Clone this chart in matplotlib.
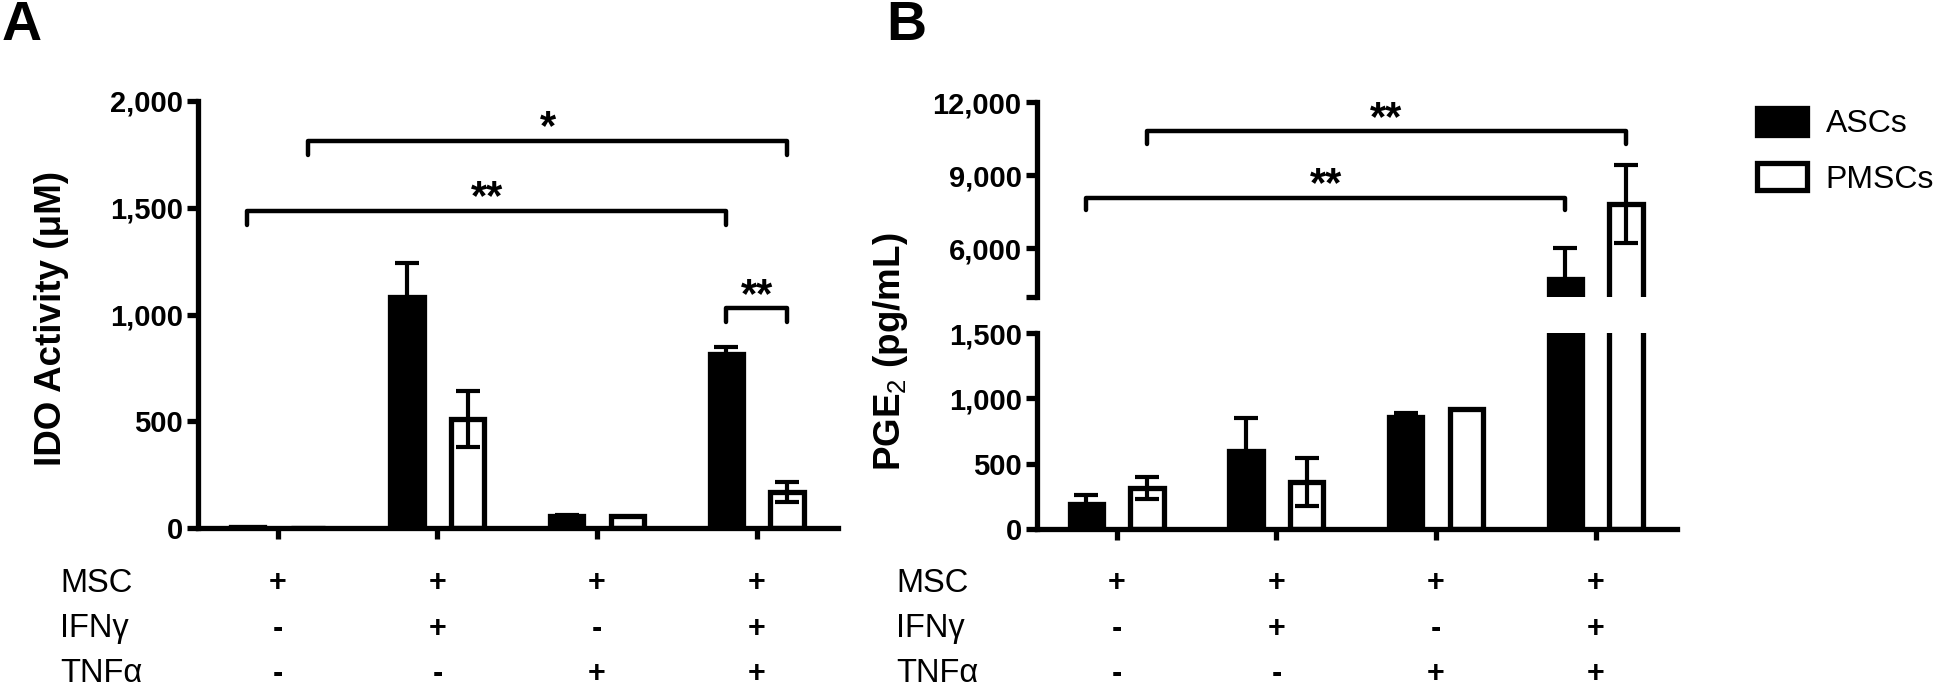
import matplotlib
matplotlib.use("Agg")
import matplotlib.pyplot as plt
import matplotlib.transforms as mtransforms
from matplotlib.patches import Patch
from matplotlib import font_manager
import numpy as np

# --- data ---
groups = np.arange(4)
series = ["ASCs", "PMSCs"]

ido_asc = [5, 1080, 55, 815]
ido_asc_err = [0, 160, 8, 35]
ido_pmsc = [2, 510, 58, 170]
ido_pmsc_err = [0, 130, 0, 47]
ido_ticks = [0, 500, 1000, 1500, 2000]

pge_asc = [190, 600, 855, 4750]
pge_asc_err = [70, 250, 30, 1280]
pge_pmsc = [315, 360, 920, 7800]
pge_pmsc_err = [85, 185, 0, 1600]
pge_low_ticks = [0, 500, 1000, 1500]
pge_high_ticks = [4000, 6000, 9000, 12000]

row_names = ["MSC", "IFN\u03b3", "TNF\u03b1"]
row_signs = [["+", "+", "+", "+"],
             ["-", "+", "-", "+"],
             ["-", "-", "+", "+"]]

# brackets: (x_start, x_end, y, label)
ido_brackets = [(0.19, 3.19, 1814, "*"), (-0.19, 2.81, 1485, "**"), (2.81, 3.19, 1030, "**")]
pge_brackets = [(0.19, 3.19, 10790, "**"), (-0.19, 2.81, 8080, "**")]

W, H = 1946, 688
LW = 3.8
OFF, BW = 0.19, 0.21


def pick(name, fallback="Liberation Sans"):
    try:
        font_manager.findfont(name, fallback_to_default=False)
        return name
    except Exception:
        return fallback


NARROW = pick("Liberation Sans Narrow")
plt.rcParams["font.family"] = ["Liberation Sans", "DejaVu Sans"]
plt.rcParams["mathtext.fontset"] = "custom"
plt.rcParams["mathtext.rm"] = "Liberation Sans"
plt.rcParams["mathtext.bf"] = "Liberation Sans:bold"

fig = plt.figure(figsize=(W / 100, H / 100), dpi=100)
axA = fig.add_axes([198 / W, 1 - 528 / H, 640 / W, 427 / H])
axBt = fig.add_axes([1037 / W, 1 - 297 / H, 640 / W, 195 / H])
axBb = fig.add_axes([1037 / W, 1 - 529 / H, 640 / W, 196 / H])


def draw_bars(ax, asc, asc_err, pmsc, pmsc_err):
    ax.bar(groups - OFF, asc, BW, color="black", edgecolor="black", lw=LW, zorder=2)
    ax.bar(groups + OFF, pmsc, BW, color="white", edgecolor="black", lw=LW, zorder=2)
    for xs, v, e in [(groups - OFF, asc, asc_err), (groups + OFF, pmsc, pmsc_err)]:
        for x, vi, ei in zip(xs, v, e):
            if ei > 0:
                ax.errorbar(x, vi, yerr=ei, color="black", elinewidth=3, capsize=8.5,
                            capthick=3, zorder=3)


def style(ax, ticks, labels, bottom=True):
    for s in ["top", "right"]:
        ax.spines[s].set_visible(False)
    ax.spines["left"].set_linewidth(LW)
    ax.spines["bottom"].set_linewidth(LW)
    if not bottom:
        ax.spines["bottom"].set_visible(False)
    ax.set_xlim(-0.5, 3.51)
    ax.set_yticks(ticks, labels, fontsize=21, fontweight="bold", family=[NARROW, "DejaVu Sans"])
    ax.tick_params(axis="y", width=LW, length=8, pad=3)
    if bottom:
        ax.set_xticks(groups, [""] * 4)
        ax.tick_params(axis="x", width=LW, length=8)
    else:
        ax.set_xticks([])


def brackets(ax, items, drop):
    for x1, x2, y, lab in items:
        ax.plot([x1, x1, x2, x2], [y - drop, y, y, y - drop], color="black", lw=3.2,
                solid_capstyle="round", solid_joinstyle="round", clip_on=False)
        ax.annotate(lab, xy=((x1 + x2) / 2, y), xytext=(0, 1), textcoords="offset points",
                    ha="center", va="baseline", fontsize=30, fontweight="bold")


fmt = lambda v: f"{v:,}"

# panel A
draw_bars(axA, ido_asc, ido_asc_err, ido_pmsc, ido_pmsc_err)
axA.set_ylim(0, 2000)
style(axA, ido_ticks, [fmt(t) for t in ido_ticks])
brackets(axA, ido_brackets, 67)

# panel B (broken axis)
for ax in (axBt, axBb):
    draw_bars(ax, pge_asc, pge_asc_err, pge_pmsc, pge_pmsc_err)
axBb.set_ylim(0, 1500)
axBt.set_ylim(4000, 12000)
style(axBb, pge_low_ticks, [fmt(t) for t in pge_low_ticks])
style(axBt, pge_high_ticks, [""] + [fmt(t) for t in pge_high_ticks[1:]], bottom=False)
brackets(axBt, pge_brackets, 520)

# axis labels and panel letters
fig.text(52 / W, 1 - 318 / H, "IDO Activity (\u03bcM)", rotation=90, ha="center", va="center",
         fontsize=26.5, fontweight="bold")
fig.text(891 / W, 1 - 352 / H, r"PGE$_2$ (pg/mL)", rotation=90, ha="center", va="center",
         fontsize=26.5, fontweight="bold")
fig.text(2 / W, 1, "A", ha="left", va="top", fontsize=40, fontweight="bold")
fig.text(886 / W, 1, "B", ha="left", va="top", fontsize=40, fontweight="bold")

# treatment table under each panel
row_y = [583, 629, 674]
for ax, x0 in [(axA, 60), (axBb, 896)]:
    tr = mtransforms.blended_transform_factory(ax.transData, fig.transFigure)
    for name, signs, y in zip(row_names, row_signs, row_y):
        fig.text(x0 / W, 1 - y / H, name, ha="left", va="center", fontsize=23.5)
        for g, s in zip(groups, signs):
            fig.text(g, 1 - y / H, s, transform=tr, ha="center", va="center",
                     fontsize=22, fontweight="bold")

# legend
fig.legend(handles=[Patch(facecolor="black", edgecolor="black", lw=LW),
                    Patch(facecolor="white", edgecolor="black", lw=LW)],
           labels=series, loc="upper left", bbox_to_anchor=(1757 / W, 1 - 108 / H),
           frameon=False, fontsize=23, handlelength=1.55, handleheight=0.9,
           handletextpad=0.6, labelspacing=0.75, borderpad=0, borderaxespad=0)

fig.savefig("out.png", dpi=100)
